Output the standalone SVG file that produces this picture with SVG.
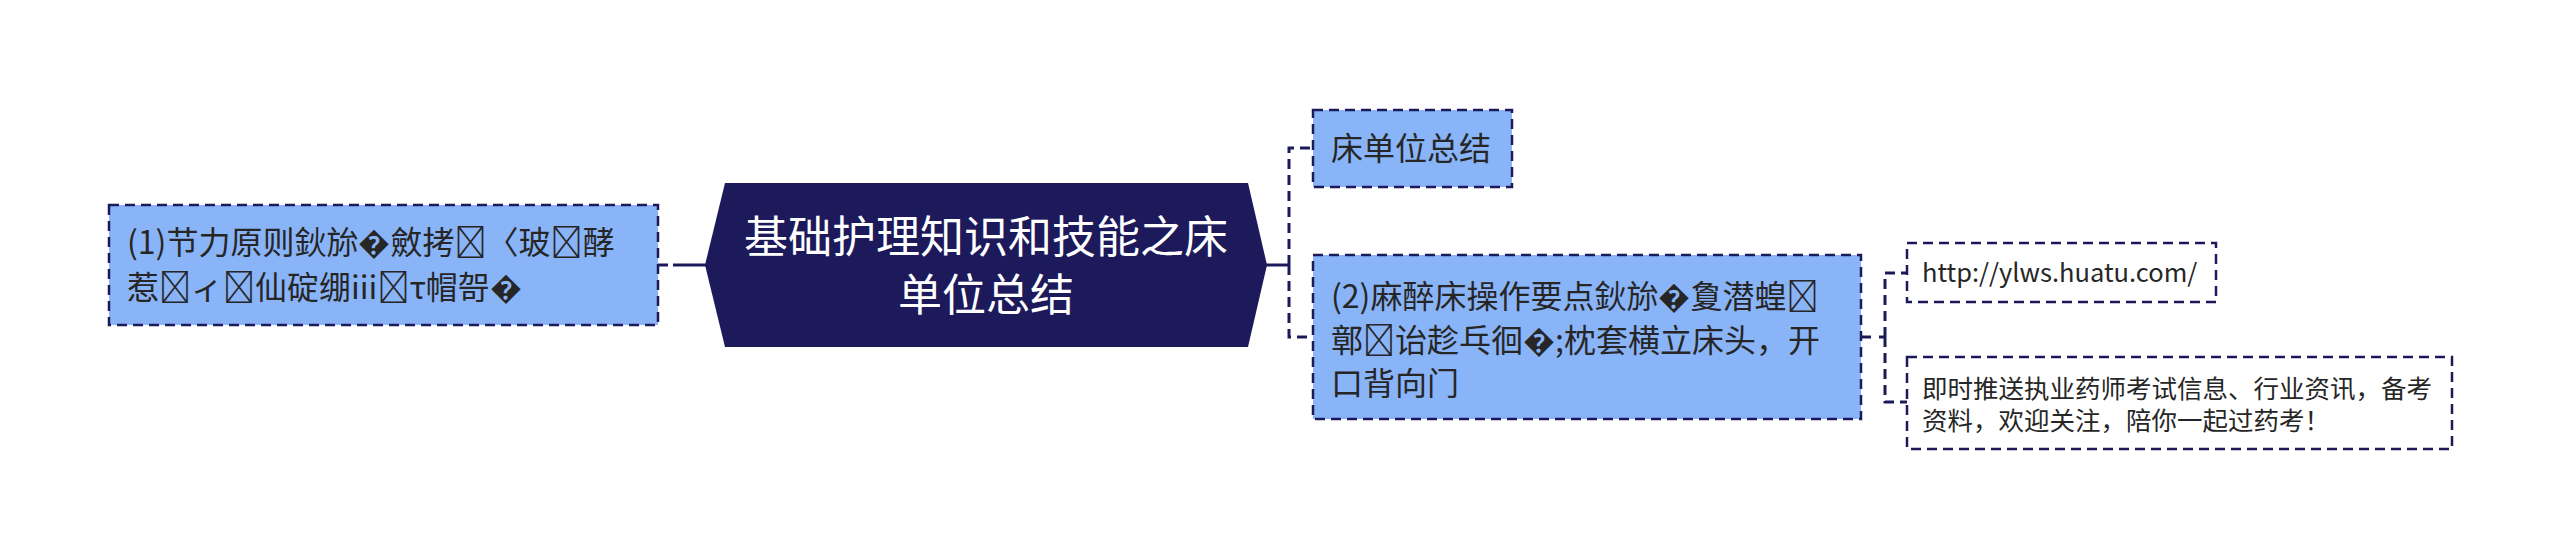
<svg xmlns="http://www.w3.org/2000/svg" width="2560" height="559" viewBox="0 0 2560 559">
<style>
.box{fill:#8ab4f8;stroke:#1c1a5b;stroke-width:2.5;stroke-dasharray:10 6}
.note{fill:#ffffff;stroke:#1c1a5b;stroke-width:2.5;stroke-dasharray:10 6}
.hex{fill:#1c1a5b}
.t{font-family:"Noto Sans CJK SC","Microsoft YaHei",sans-serif;font-size:32px;fill:#262626}
.tc{font-family:"Noto Sans CJK SC","Microsoft YaHei",sans-serif;font-size:44px;fill:#ffffff;text-anchor:middle}
.ts{font-family:"Noto Sans CJK SC","Microsoft YaHei",sans-serif;font-size:25.5px;fill:#262626}
.solid{fill:none;stroke:#1c1a5b;stroke-width:3}
.dash{fill:none;stroke:#1c1a5b;stroke-width:3;stroke-dasharray:10 6}
</style>
<rect width="2560" height="559" fill="#ffffff"/>
<g id="connectors">
<line class="solid" x1="673" y1="265" x2="706" y2="265"/>
<line class="dash" x1="658" y1="265" x2="670" y2="265"/>
<line class="solid" x1="1266" y1="265" x2="1289" y2="265"/>
<path class="dash" d="M1289,265 V148 H1313"/>
<path class="dash" d="M1289,265 V337 H1313"/>
<line class="dash" x1="1861" y1="337" x2="1871" y2="337"/>
<line class="solid" x1="1879" y1="337" x2="1885" y2="337"/>
<path class="dash" d="M1885,337 V273 H1907"/>
<path class="dash" d="M1885,337 V402 H1907"/>
</g>
<g id="center">
<polygon class="hex" points="725,183 1248,183 1267,265 1248,347 725,347 705,265"/>
<text class="tc" x="986" y="253">基础护理知识和技能之床</text>
<text class="tc" x="986" y="311">单位总结</text>
</g>
<g id="left1">
<rect class="box" x="109" y="205" width="549" height="120"/>
<text class="t" x="127" y="254">(1)节力原则鈥旀&#xFFFD;斂拷&#xE5E5;〈玻&#xE5E6;酵</text>
<text class="t" x="127" y="299">惹&#xE5E7;ィ&#xE5E8;仙碇绷iii&#xE5E9;τ帽哿&#xFFFD;</text>
</g>
<g id="right1">
<rect class="box" x="1313" y="110" width="199" height="77"/>
<text class="t" x="1331" y="160">床单位总结</text>
</g>
<g id="right2">
<rect class="box" x="1313" y="255" width="548" height="164"/>
<text class="t" x="1331" y="308">(2)麻醉床操作要点鈥旀&#xFFFD;夐潜蝗&#xE5EA;</text>
<text class="t" x="1331" y="352">鄣&#xE5EB;诒趁乓徊&#xFFFD;;枕套横立床头，开</text>
<text class="t" x="1331" y="395">口背向门</text>
</g>
<g id="url">
<rect class="note" x="1907" y="243" width="309" height="59"/>
<text class="ts" x="1922" y="282">http://ylws.huatu.com/</text>
</g>
<g id="notice">
<rect class="note" x="1907" y="357" width="545" height="92"/>
<text class="ts" x="1922" y="398">即时推送执业药师考试信息、行业资讯，备考</text>
<text class="ts" x="1922" y="430">资料，欢迎关注，陪你一起过药考！</text>
</g>
</svg>
